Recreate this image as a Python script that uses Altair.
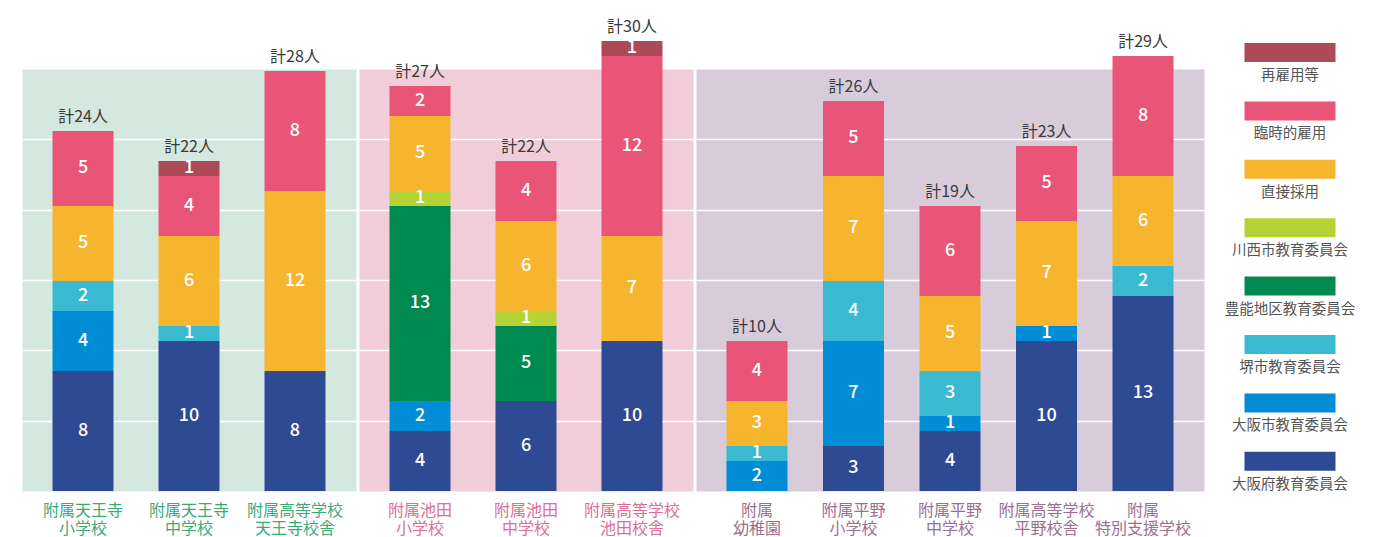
import altair as alt
import pandas as pd

categories = ["大阪府教育委員会", "大阪市教育委員会", "堺市教育委員会", "豊能地区教育委員会",
              "川西市教育委員会", "直接採用", "臨時的雇用", "再雇用等"]
colors = ["#2E4A93", "#008DD5", "#3ABAD0", "#008A50", "#B5D334", "#F5B52E", "#E85577", "#AC4A58"]

group1 = ["附属天王寺\n小学校", "附属天王寺\n中学校", "附属高等学校\n天王寺校舎"]
group2 = ["附属池田\n小学校", "附属池田\n中学校", "附属高等学校\n池田校舎"]
group3 = ["附属\n幼稚園", "附属平野\n小学校", "附属平野\n中学校", "附属高等学校\n平野校舎", "附属\n特別支援学校"]

# counts per school in category order (bottom -> top)
counts = {
    "附属天王寺\n小学校": [8, 4, 2, 0, 0, 5, 5, 0],
    "附属天王寺\n中学校": [10, 0, 1, 0, 0, 6, 4, 1],
    "附属高等学校\n天王寺校舎": [8, 0, 0, 0, 0, 12, 8, 0],
    "附属池田\n小学校": [4, 2, 0, 13, 1, 5, 2, 0],
    "附属池田\n中学校": [6, 0, 0, 5, 1, 6, 4, 0],
    "附属高等学校\n池田校舎": [10, 0, 0, 0, 0, 7, 12, 1],
    "附属\n幼稚園": [0, 2, 1, 0, 0, 3, 4, 0],
    "附属平野\n小学校": [3, 7, 4, 0, 0, 7, 5, 0],
    "附属平野\n中学校": [4, 1, 3, 0, 0, 5, 6, 0],
    "附属高等学校\n平野校舎": [10, 1, 0, 0, 0, 7, 5, 0],
    "附属\n特別支援学校": [13, 0, 2, 0, 0, 6, 8, 0],
}

rows = []
for g, names in enumerate([group1, group2, group3]):
    for s in names:
        for i, (c, v) in enumerate(zip(categories, counts[s])):
            if v > 0:
                rows.append({"group": g, "school": s, "category": c, "idx": i, "value": v})
df = pd.DataFrame(rows)

FONT = "Noto Sans CJK JP"
D = 28.133
grid_vals = [D * k / 6 for k in range(1, 6)]
color_scale = alt.Scale(domain=categories, range=colors)


def panel(g, names, bg, label_color, width, pad_outer):
    base = alt.Chart(df).transform_filter(alt.datum.group == g)
    xenc = alt.X("school:N", sort=names,
                 scale=alt.Scale(paddingInner=0, paddingOuter=pad_outer),
                 axis=alt.Axis(title=None, labelAngle=0, ticks=False, domain=False,
                               labelExpr="split(datum.label, '\\n')",
                               labelColor=label_color, labelFontSize=16, labelFont=FONT,
                               labelLineHeight=18, labelPadding=11, labelBaseline="top"))
    yscale = alt.Scale(domain=[0, D], nice=False, zero=True)
    yaxis = alt.Axis(values=grid_vals, grid=True, gridColor="white", gridWidth=1.6,
                     labels=False, ticks=False, domain=False, title=None)
    bars = base.mark_bar(size=61).encode(
        x=xenc,
        y=alt.Y("value:Q", stack="zero", scale=yscale, axis=yaxis),
        color=alt.Color("category:N", scale=color_scale, legend=None),
        order=alt.Order("idx:Q"),
    )
    seg = base.transform_stack(
        stack="value", groupby=["school"], as_=["v0", "v1"], sort=[alt.SortField("idx")]
    ).transform_calculate(mid="(datum.v0 + datum.v1) / 2").mark_text(
        color="white", fontSize=18, font=FONT, fontWeight=500, baseline="middle"
    ).encode(x=xenc, y=alt.Y("mid:Q", scale=yscale, axis=yaxis), text="value:Q")
    tot = base.transform_aggregate(total="sum(value)", groupby=["school"]).transform_calculate(
        lbl="'計' + datum.total + '人'"
    ).mark_text(dy=-6, baseline="bottom", fontSize=16, font=FONT, color="#3a3a3a").encode(
        x=xenc, y=alt.Y("total:Q", scale=yscale, axis=yaxis), text="lbl:N"
    )
    return alt.layer(bars, seg, tot).properties(
        width=width, height=422,
        view=alt.ViewBackground(fill=bg, stroke="transparent"),
    )


p1 = panel(0, group1, "#D4E8E0", "#3BAA78", 334, 0.0755)
p2 = panel(1, group2, "#F0CDD8", "#E06D96", 334, 0.0755)
p3 = panel(2, group3, "#D8CCDA", "#9B6F8F", 508, 0.132)

leg_df = pd.DataFrame({
    "category": categories[::-1],
    "li": list(range(len(categories))),
})
lscale = alt.Scale(domain=[0.2825, 7.509], reverse=True, nice=False, zero=False)
leg_sym = alt.Chart(leg_df).mark_tick(orient="horizontal", size=91, thickness=19, opacity=1).encode(
    x=alt.value(83),
    y=alt.Y("li:Q", scale=lscale, axis=None),
    color=alt.Color("category:N", scale=color_scale, legend=None),
)
leg_txt = alt.Chart(leg_df).mark_text(dy=23.5, fontSize=14.5, font=FONT, color="#555555",
                                      align="center", baseline="middle").encode(
    x=alt.value(83),
    y=alt.Y("li:Q", scale=lscale, axis=None),
    text="category:N",
)
legend = alt.layer(leg_sym, leg_txt).properties(
    width=150, height=422, view=alt.ViewBackground(stroke="transparent")
)

chart = alt.hconcat(p1, p2, p3, legend, spacing=1).properties(
    padding={"left": 13, "top": 10, "right": 0, "bottom": 0}
).configure_view(stroke="transparent")

chart.save("out.html", embed_options={"renderer": "svg", "actions": False})
